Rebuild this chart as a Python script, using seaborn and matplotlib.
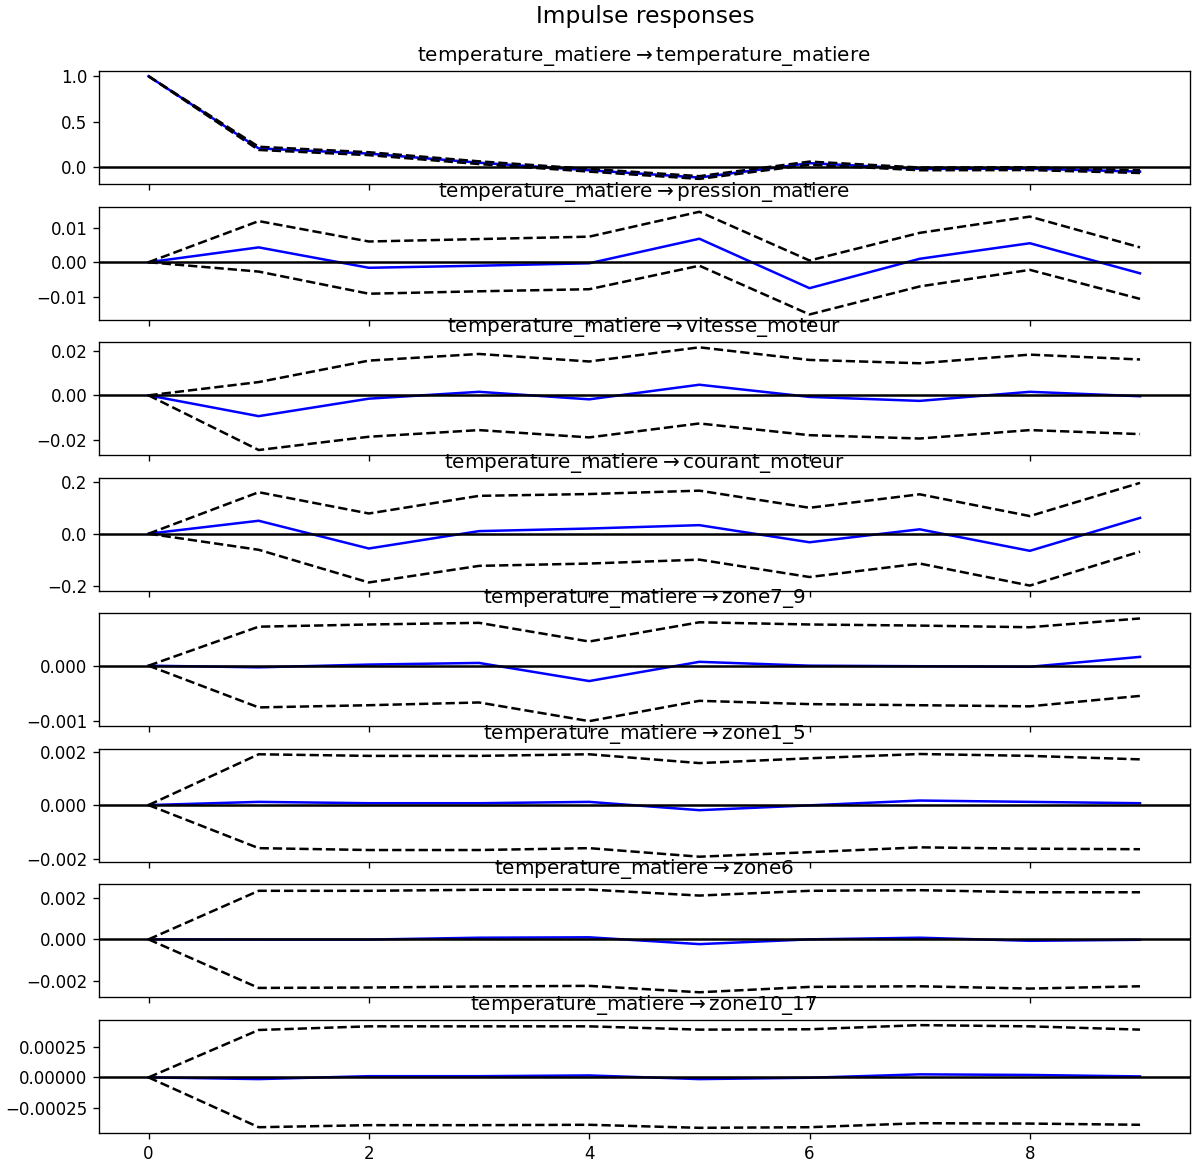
import numpy as np
import matplotlib
matplotlib.use("Agg")
import matplotlib.pyplot as plt
import seaborn as sns

# Réponses impulsionnelles : choc sur temperature_matiere
steps = list(range(10))
impulse = "temperature_matiere"
responses = ["temperature_matiere", "pression_matiere", "vitesse_moteur", "courant_moteur",
             "zone7_9", "zone1_5", "zone6", "zone10_17"]

irf_temperature_matiere = [1.0, 0.207, 0.150, 0.050, -0.033, -0.113, 0.045, -0.018, -0.016, -0.048]
upper_temperature_matiere = [1.0, 0.225, 0.165, 0.065, -0.018, -0.098, 0.062, -0.003, 0.000, -0.033]
lower_temperature_matiere = [1.0, 0.190, 0.133, 0.035, -0.048, -0.128, 0.028, -0.033, -0.031, -0.063]

irf_pression_matiere = [0.0, 0.0043, -0.0016, -0.0010, -0.0003, 0.0068, -0.0075, 0.0010, 0.0055, -0.0032]
upper_pression_matiere = [0.0, 0.0119, 0.0060, 0.0067, 0.0074, 0.0146, 0.0005, 0.0085, 0.0132, 0.0043]
lower_pression_matiere = [0.0, -0.0027, -0.0091, -0.0084, -0.0078, -0.0010, -0.0151, -0.0070, -0.0022, -0.0106]

irf_vitesse_moteur = [0.0, -0.0094, -0.0015, 0.0016, -0.0018, 0.0048, -0.0007, -0.0025, 0.0016, -0.0004]
upper_vitesse_moteur = [0.0, 0.0060, 0.0157, 0.0187, 0.0153, 0.0217, 0.0160, 0.0145, 0.0184, 0.0162]
lower_vitesse_moteur = [0.0, -0.0247, -0.0187, -0.0157, -0.0190, -0.0127, -0.0180, -0.0195, -0.0157, -0.0175]

irf_courant_moteur = [0.0, 0.050, -0.057, 0.010, 0.020, 0.033, -0.033, 0.017, -0.066, 0.061]
upper_courant_moteur = [0.0, 0.160, 0.078, 0.146, 0.153, 0.166, 0.100, 0.152, 0.068, 0.196]
lower_courant_moteur = [0.0, -0.062, -0.188, -0.124, -0.115, -0.100, -0.167, -0.115, -0.200, -0.069]

irf_zone7_9 = [0.0, -0.00003, 0.00002, 0.00005, -0.00028, 0.00007, 0.0, -0.00001, -0.00002, 0.00016]
upper_zone7_9 = [0.0, 0.00071, 0.00075, 0.00078, 0.00044, 0.00079, 0.00075, 0.00073, 0.00070, 0.00086]
lower_zone7_9 = [0.0, -0.00076, -0.00072, -0.00067, -0.00101, -0.00064, -0.00070, -0.00072, -0.00074, -0.00055]

irf_zone1_5 = [0.0, 0.00012, 0.00007, 0.00007, 0.00012, -0.00019, -0.00001, 0.00017, 0.00012, 0.00007]
upper_zone1_5 = [0.0, 0.00190, 0.00184, 0.00184, 0.00190, 0.00157, 0.00175, 0.00191, 0.00184, 0.00171]
lower_zone1_5 = [0.0, -0.00161, -0.00168, -0.00168, -0.00161, -0.00193, -0.00176, -0.00158, -0.00163, -0.00165]

irf_zone6 = [0.0, -0.00001, -0.00001, 0.00008, 0.00010, -0.00023, 0.0, 0.00008, -0.00007, -0.00002]
upper_zone6 = [0.0, 0.00235, 0.00235, 0.00240, 0.00241, 0.00212, 0.00235, 0.00238, 0.00228, 0.00228]
lower_zone6 = [0.0, -0.00235, -0.00233, -0.00228, -0.00225, -0.00256, -0.00230, -0.00227, -0.00238, -0.00227]

irf_zone10_17 = [0.0, -0.000014, 0.00001, 0.00001, 0.000016, -0.000014, -0.000003, 0.000025, 0.00002, 0.000008]
upper_zone10_17 = [0.0, 0.00039, 0.00042, 0.00042, 0.00042, 0.000393, 0.000396, 0.00043, 0.00042, 0.000393]
lower_zone10_17 = [0.0, -0.00041, -0.000393, -0.000393, -0.00039, -0.000415, -0.00041, -0.000377, -0.00038, -0.00039]

irfs = [irf_temperature_matiere, irf_pression_matiere, irf_vitesse_moteur, irf_courant_moteur,
        irf_zone7_9, irf_zone1_5, irf_zone6, irf_zone10_17]
uppers = [upper_temperature_matiere, upper_pression_matiere, upper_vitesse_moteur, upper_courant_moteur,
          upper_zone7_9, upper_zone1_5, upper_zone6, upper_zone10_17]
lowers = [lower_temperature_matiere, lower_pression_matiere, lower_vitesse_moteur, lower_courant_moteur,
          lower_zone7_9, lower_zone1_5, lower_zone6, lower_zone10_17]

fig, axes = plt.subplots(len(responses), 1, sharex=True, figsize=(1192 / 120, 1165 / 120), dpi=120)

for ax, name, irf, up, lo in zip(axes, responses, irfs, uppers, lowers):
    sns.lineplot(x=steps, y=irf, ax=ax, color='b', estimator=None)
    sns.lineplot(x=steps, y=lo, ax=ax, color='k', linestyle='--', estimator=None)
    sns.lineplot(x=steps, y=up, ax=ax, color='k', linestyle='--', estimator=None)
    ax.axhline(0, color='k')
    ax.set_title(r'%s$\rightarrow$%s' % (impulse, name))

fig.suptitle('Impulse responses', fontsize=14, x=0.541, y=0.996)
fig.subplots_adjust(left=0.083, right=0.998, top=0.939, bottom=0.0275, hspace=0.2)
plt.savefig('out.png', dpi=120)
